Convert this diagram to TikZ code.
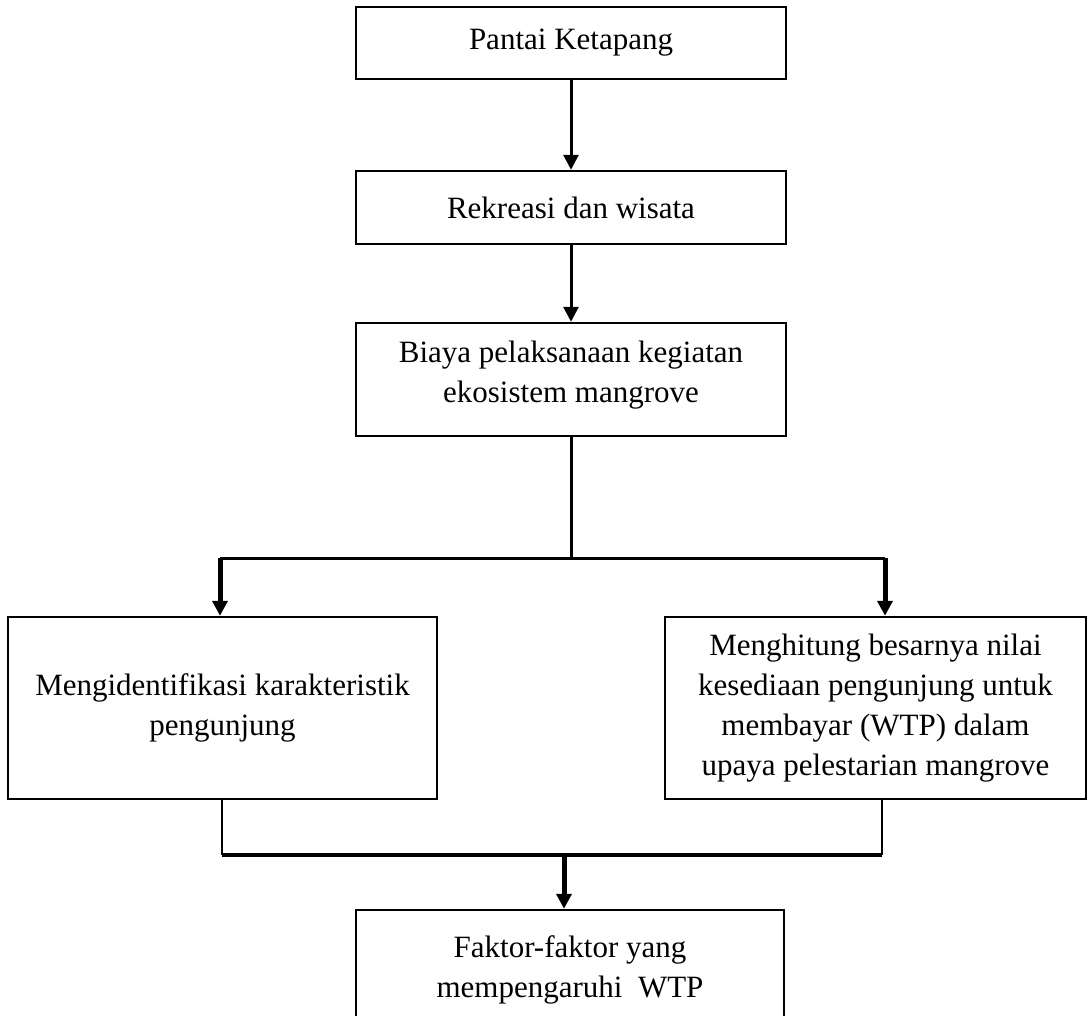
\documentclass[tikz,border=0pt]{standalone}
\usepackage{fontspec}
\setmainfont{Liberation Serif}
\usetikzlibrary{arrows.meta}

\begin{document}
\begin{tikzpicture}[x=1pt, y=-1pt,
    kotak/.style={draw, rectangle, line width=2.5pt, align=center, font=\fontsize{31}{40}\selectfont},
    panah/.style={-{Triangle[width=15pt,length=15pt]}, line width=3pt}]
    \useasboundingbox (0,0) rectangle (1089,1015);
    \clip (0,0) rectangle (1089,1015);
    % Alur penelitian
    \node[kotak, minimum width=430pt, minimum height=72pt] (pantai) at (571,43) {Pantai Ketapang};
    \node[kotak, minimum width=430pt, minimum height=73pt] (rekreasi) at (571,207.5) {Rekreasi dan wisata};
    \node[kotak, minimum width=430pt, minimum height=113pt, text depth=16pt] (biaya) at (571,379.5) {Biaya pelaksanaan kegiatan\\ekosistem mangrove};
    \node[kotak, minimum width=429pt, minimum height=182pt] (identifikasi) at (222.5,708) {Mengidentifikasi karakteristik\\pengunjung};
    \node[kotak, minimum width=421pt, minimum height=182pt] (hitung) at (875.5,708) {Menghitung besarnya nilai\\kesediaan pengunjung untuk\\membayar (WTP) dalam\\upaya pelestarian mangrove};
    \node[kotak, minimum width=428pt, minimum height=120pt] (faktor) at (570,970) {Faktor-faktor yang\\mempengaruhi~~WTP};

    \draw[panah] (pantai) -- (rekreasi);
    \draw[panah] (rekreasi) -- (biaya);

    % Percabangan
    \coordinate (cabang) at (571,558);
    \coordinate (cabangkiri) at (220,558);
    \coordinate (cabangkanan) at (885,558);
    \draw[line width=3pt] (biaya) -- (cabang);
    \draw[line width=3pt] (cabangkiri) -- (cabangkanan);
    \draw[panah, line width=5pt] (cabangkiri) -- (cabangkiri |- identifikasi.north);
    \draw[panah, line width=5pt] (cabangkanan) -- (cabangkanan |- hitung.north);

    % Penggabungan
    \coordinate (gabungkiri) at (222,855);
    \coordinate (gabungkanan) at (882,855);
    \coordinate (gabung) at (564,855);
    \draw[line width=2pt] (identifikasi.south -| gabungkiri) -- (gabungkiri);
    \draw[line width=2pt] (hitung.south -| gabungkanan) -- (gabungkanan);
    \draw[line width=3.5pt] (gabungkiri) -- (gabungkanan);
    \draw[panah, line width=5pt] (gabung) -- (gabung |- faktor.north);
\end{tikzpicture}
\end{document}
